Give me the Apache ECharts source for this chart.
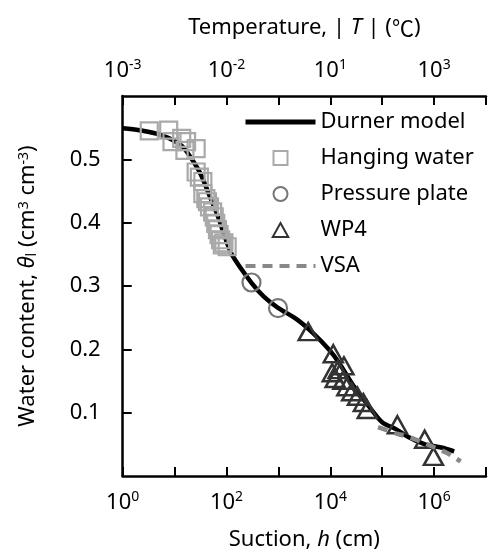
<!DOCTYPE html>
<html>
<head>
<meta charset="utf-8">
<script src="https://cdn.jsdelivr.net/npm/echarts@6/dist/echarts.min.js"></script>
<style>
html,body{margin:0;padding:0;background:#fff;}
#chart{width:489px;height:556px;}
</style>
</head>
<body>
<div id="chart"></div>
<script>
// Durner 模型曲线：吸力 h (cm)，含水量
var durnerH = [1, 2.1, 5.7, 13.5, 20.8, 32, 49, 67, 90, 128, 303, 530, 970, 2300, 4600, 9600, 14700, 28200, 77000, 103000, 183000, 326000, 667000, 1370000, 2440000];
var durnerTheta = [0.549, 0.546, 0.538, 0.522, 0.502, 0.476, 0.439, 0.412, 0.381, 0.349, 0.305, 0.283, 0.266, 0.247, 0.226, 0.199, 0.179, 0.142, 0.095, 0.084, 0.074, 0.061, 0.050, 0.045, 0.039];

// Hanging water
var hangingH = [3.25, 7.7, 8.9, 13.7, 17, 26, 15.8, 26, 30, 35, 35, 40, 43, 47, 54, 58, 62, 67, 72, 77, 89, 103, 83];
var hangingTheta = [0.545, 0.546, 0.528, 0.533, 0.528, 0.517, 0.514, 0.480, 0.472, 0.465, 0.446, 0.438, 0.433, 0.425, 0.417, 0.409, 0.399, 0.389, 0.381, 0.373, 0.368, 0.362, 0.365];

// Pressure plate
var plateH = [303, 984];
var plateTheta = [0.3055, 0.265];

// WP4
var wp4H = [3750, 11400, 18300, 10900, 14100, 12400, 17500, 20800, 25800, 33400, 43300, 51500, 196000, 658000, 971000];
var wp4Theta = [0.228, 0.193, 0.174, 0.163, 0.168, 0.154, 0.151, 0.141, 0.133, 0.126, 0.116, 0.105, 0.081, 0.058, 0.031];

// VSA
var vsaH = [83000, 190000, 430000, 900000, 1700000, 3250000];
var vsaTheta = [0.077, 0.067, 0.058, 0.047, 0.037, 0.023];

// 上方温度轴的刻度标签
var topTickValues = [1, 100, 10000, 1000000];
var topTickLabels = ['10{sup|-3}', '10{sup|-2}', '10{sup|1}', '10{sup|3}'];

var fontName = '"Noto Sans", "DejaVu Sans", sans-serif';

function toPairs(xs, ys) {
    var out = [];
    for (var i = 0; i < xs.length; i++) {
        out.push([xs[i], ys[i]]);
    }
    return out;
}

var richText = {
    sup: { fontSize: 14, lineHeight: 14, verticalAlign: 'top', fontFamily: fontName, color: '#000' },
    sub: { fontSize: 14, lineHeight: 14, verticalAlign: 'bottom', fontFamily: fontName, color: '#000' },
    i: { fontSize: 22, fontStyle: 'italic', fontFamily: fontName, color: '#000' },
    c: { fontSize: 22, fontFamily: '"Noto Sans CJK SC", sans-serif', color: '#000' }
};

var axisBase = {
    type: 'log',
    logBase: 10,
    min: 1,
    max: 10000000,
    axisLine: { show: true, lineStyle: { color: '#000', width: 2.5 } },
    axisTick: { show: true, inside: true, length: 9, lineStyle: { color: '#000', width: 2 } },
    splitLine: { show: false },
    minorTick: { show: false }
};

var chart = echarts.init(document.getElementById('chart'));

var option = {
    backgroundColor: '#fff',
    animation: false,
    textStyle: { fontFamily: fontName },
    grid: {
        left: 122.7,
        top: 96,
        right: -6.8,
        bottom: 79.3,
        containLabel: false
    },
    legend: {
        orient: 'vertical',
        left: 238,
        top: 106,
        itemWidth: 70,
        itemHeight: 14,
        itemGap: 14,
        symbolKeepAspect: true,
        textStyle: { fontSize: 22, lineHeight: 22, color: '#000', fontFamily: fontName },
        data: [
            { name: 'Durner model', itemStyle: { opacity: 0 }, lineStyle: { width: 5 } },
            { name: 'Hanging water', icon: 'path://M0,0L10,0L10,10L0,10Z' },
            { name: 'Pressure plate', icon: 'circle' },
            { name: 'WP4', icon: 'path://M5,0L10,9L0,9Z' },
            { name: 'VSA', itemStyle: { opacity: 0 }, lineStyle: { width: 4 } }
        ]
    },
    xAxis: [
        Object.assign({}, axisBase, {
            position: 'bottom',
            name: 'Suction, {i|h} (cm)',
            nameLocation: 'middle',
            nameGap: 53,
            nameTextStyle: { fontSize: 22, color: '#000', fontFamily: fontName, rich: richText },
            axisLabel: {
                interval: 0,
                margin: 14,
                fontSize: 22,
                lineHeight: 26,
                color: '#000',
                fontFamily: fontName,
                rich: richText,
                formatter: function (v) {
                    var e = Math.round(Math.log10(v));
                    if (e % 2 !== 0 || e > 6) return '';
                    return '10{sup|' + e + '}';
                }
            }
        }),
        Object.assign({}, axisBase, {
            position: 'top',
            name: 'Temperature, | {i|T} | ({c|℃})',
            nameLocation: 'middle',
            nameGap: 57,
            nameTextStyle: { fontSize: 22, color: '#000', fontFamily: fontName, rich: richText },
            axisLabel: {
                interval: 0,
                margin: 12,
                fontSize: 22,
                lineHeight: 26,
                color: '#000',
                fontFamily: fontName,
                rich: richText,
                formatter: function (v) {
                    for (var i = 0; i < topTickValues.length; i++) {
                        if (Math.abs(Math.log10(v) - Math.log10(topTickValues[i])) < 1e-6) return topTickLabels[i];
                    }
                    return '';
                }
            }
        })
    ],
    yAxis: {
        type: 'value',
        min: 0,
        max: 0.6,
        interval: 0.1,
        name: 'Water content, {i|θ}{sub|l} (cm{sup|3} cm{sup|-3})',
        nameLocation: 'middle',
        nameGap: 84,
        nameTextStyle: { fontSize: 22, color: '#000', fontFamily: fontName, rich: richText },
        axisLine: { show: true, lineStyle: { color: '#000', width: 2.5 } },
        axisTick: { show: true, inside: true, length: 9, lineStyle: { color: '#000', width: 2 } },
        splitLine: { show: false },
        axisLabel: {
            margin: 22,
            fontSize: 22,
            color: '#000',
            fontFamily: fontName,
            showMinLabel: false,
            showMaxLabel: false,
            formatter: function (v) { return v.toFixed(1); }
        }
    },
    series: [
        {
            name: 'Durner model',
            type: 'line',
            data: toPairs(durnerH, durnerTheta),
            smooth: 0.3,
            symbol: 'none',
            lineStyle: { color: '#000', width: 4.5 },
            itemStyle: { color: '#000' },
            z: 2
        },
        {
            name: 'Hanging water',
            type: 'scatter',
            data: toPairs(hangingH, hangingTheta),
            symbol: 'rect',
            symbolSize: 17,
            itemStyle: { color: 'rgba(0,0,0,0)', borderColor: '#a9a9a9', borderWidth: 2.2, opacity: 1 },
            z: 3
        },
        {
            name: 'Pressure plate',
            type: 'scatter',
            data: toPairs(plateH, plateTheta),
            symbol: 'circle',
            symbolSize: 18,
            itemStyle: { color: 'rgba(0,0,0,0)', borderColor: '#777', borderWidth: 2.2, opacity: 1 },
            z: 3
        },
        {
            name: 'WP4',
            type: 'scatter',
            data: toPairs(wp4H, wp4Theta),
            symbol: 'triangle',
            symbolSize: [19, 17],
            itemStyle: { color: 'rgba(0,0,0,0)', borderColor: '#333', borderWidth: 2.5, opacity: 1 },
            z: 3
        },
        {
            name: 'VSA',
            type: 'line',
            data: toPairs(vsaH, vsaTheta),
            smooth: 0.3,
            symbol: 'none',
            lineStyle: { color: '#888', width: 4.5, type: [10, 7] },
            itemStyle: { color: '#888' },
            z: 4
        }
    ]
};

chart.setOption(option);
</script>
</body>
</html>
